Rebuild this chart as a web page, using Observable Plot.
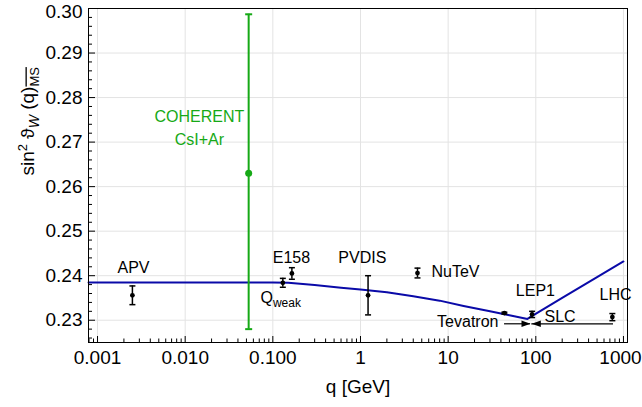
<!DOCTYPE html>
<html><head><meta charset="utf-8">
<script src="https://cdn.jsdelivr.net/npm/d3@7"></script>
<script src="https://cdn.jsdelivr.net/npm/@observablehq/plot@0.6"></script>
<style>
html,body{margin:0;padding:0;background:#fff;}
#chart svg{display:block;}
</style>
</head><body><div id="chart"></div>
<script>
// Running weak mixing angle curve
const curveQ = [0.00079, 0.05, 0.1, 0.15, 0.3, 0.6, 1, 2, 4, 8, 15, 30, 50, 80.4, 91.2, 200, 500, 1000];
const curveS = [0.2385, 0.2385, 0.2385, 0.2384, 0.2379, 0.2373, 0.2369, 0.2363, 0.2354, 0.2344, 0.2332, 0.2320, 0.2311, 0.2303, 0.2310, 0.2350, 0.2397, 0.2432];

// Measurements
const expNames = ["APV", "Qweak", "E158", "PVDIS", "NuTeV", "Tevatron", "LEP1", "LHC"];
const expQ = [0.0025, 0.13, 0.165, 1.22, 4.47, 43.8, 90.7, 747];
const expS = [0.2356, 0.2384, 0.2405, 0.2356, 0.2406, 0.2316, 0.2313, 0.2307];
const expErr = [0.0021, 0.0010, 0.0013, 0.0044, 0.0011, 0.0002, 0.0007, 0.0008];

// COHERENT CsI+Ar
const cohQ = [0.053];
const cohS = [0.263];
const cohLo = [0.2280];
const cohHi = [0.2987];

// Arrows (Tevatron, SLC)
const arrowFrom = [44, 770];
const arrowTo = [87, 90];
const arrowS = [0.2292, 0.2292];

// Annotation labels
const labelText = ["APV", "E158", "PVDIS", "LEP1", "LHC", "COHERENT", "CsI+Ar", "NuTeV", "SLC", "Qweak", "Tevatron"];
const labelQ = [0.00257, 0.163, 1.05, 98.9, 811, 0.0145, 0.0145, 6.46, 125.7, 0.0723, 37.5];
const labelS = [0.2405, 0.2428, 0.2428, 0.2354, 0.2345, 0.27442, 0.26926, 0.2396, 0.2296, 0.2339, 0.2285];

// Axes
const xTicks = [0.001, 0.01, 0.1, 1, 10, 100, 1000];
const xTickLabels = ["0.001", "0.010", "0.100", "1", "10", "100", "1000"];
const yTicks = [0.23, 0.24, 0.25, 0.26, 0.27, 0.28, 0.29, 0.30];
const yTickLabels = ["0.23", "0.24", "0.25", "0.26", "0.27", "0.28", "0.29", "0.30"];
const xMinor = [0.0008, 0.0009].concat(...[0.001, 0.01, 0.1, 1, 10, 100].map(d => d3.range(2, 10).map(k => k * d)));
const yMinor = d3.range(113, 150).map(k => k * 0.002).filter(v => v > 0.2249 && v < 0.3001 && Math.abs(v * 100 - Math.round(v * 100)) > 1e-6);
const xTitle = "q [GeV]";
const yTitle = "sin2 ϑW (q)MS";

const W = 642, H = 407, mL = 88, mR = 15, mT = 8, mB = 65;
const pw = W - mL - mR, ph = H - mT - mB;
const green = "#16a916", blue = "#0a0aa8";

const capSym = {draw(c) { c.moveTo(-3, 0); c.lineTo(3, 0); }};
const capSymG = {draw(c) { c.moveTo(-3.5, 0); c.lineTo(3.5, 0); }};
const headR = {draw(c) { c.moveTo(0, 0); c.lineTo(-9, -3.2); c.lineTo(-9, 3.2); c.closePath(); }};
const headL = {draw(c) { c.moveTo(0, 0); c.lineTo(9, -3.2); c.lineTo(9, 3.2); c.closePath(); }};

const ci = d3.range(curveQ.length);
const ei = d3.range(expQ.length);
const gi = [0];
const byAnchor = a => labelText.map((t, i) => i).filter(i => {
  const t = labelText[i];
  if (a === "start") return t === "NuTeV" || t === "SLC" || t === "Qweak";
  if (a === "end") return t === "Tevatron";
  return !(t === "NuTeV" || t === "SLC" || t === "Qweak" || t === "Tevatron");
});
const lblMark = (idx, anchor) => Plot.text(idx, {
  x: i => labelQ[i], y: i => labelS[i], text: i => labelText[i],
  textAnchor: anchor, lineAnchor: "bottom", fontSize: 16,
  fill: i => (labelText[i] === "COHERENT" || labelText[i] === "CsI+Ar") ? green : "black"
});

const svg = Plot.plot({
  width: W, height: H,
  marginLeft: mL, marginRight: mR, marginTop: mT, marginBottom: mB,
  style: {fontFamily: "'Liberation Sans', Arial, sans-serif", background: "white", color: "black"},
  x: {type: "log", domain: [0.000789, 1112]},
  y: {domain: [0.225, 0.30]},
  marks: [
    Plot.gridX(xTicks, {stroke: "#e3e3e3", strokeOpacity: 1}),
    Plot.gridY(yTicks, {stroke: "#e3e3e3", strokeOpacity: 1}),
    Plot.line(ci, {x: i => curveQ[i], y: i => curveS[i], stroke: blue, strokeWidth: 2}),
    // green COHERENT
    Plot.ruleX(gi, {x: i => cohQ[i], y1: i => cohLo[i], y2: i => cohHi[i], stroke: green, strokeWidth: 2}),
    Plot.dot(gi, {x: i => cohQ[i], y: i => cohLo[i], symbol: capSymG, r: 3, stroke: green, strokeWidth: 2, fill: "none"}),
    Plot.dot(gi, {x: i => cohQ[i], y: i => cohHi[i], symbol: capSymG, r: 3, stroke: green, strokeWidth: 2, fill: "none"}),
    Plot.dot(gi, {x: i => cohQ[i], y: i => cohS[i], r: 3.5, fill: green, stroke: "none"}),
    // measurements
    Plot.ruleX(ei, {x: i => expQ[i], y1: i => expS[i] - expErr[i], y2: i => expS[i] + expErr[i], stroke: "black", strokeWidth: 1.5}),
    Plot.dot(ei, {x: i => expQ[i], y: i => expS[i] - expErr[i], symbol: capSym, r: 3, stroke: "black", strokeWidth: 1.5, fill: "none"}),
    Plot.dot(ei, {x: i => expQ[i], y: i => expS[i] + expErr[i], symbol: capSym, r: 3, stroke: "black", strokeWidth: 1.5, fill: "none"}),
    Plot.dot(ei, {x: i => expQ[i], y: i => expS[i], r: 2.4, fill: "black", stroke: "none"}),
    // arrows
    Plot.ruleY([0, 1], {y: i => arrowS[i], x1: i => arrowFrom[i], x2: i => arrowTo[i], stroke: "black", strokeWidth: 1.2}),
    Plot.dot([0], {x: i => arrowTo[i], y: i => arrowS[i], symbol: headR, r: 3, fill: "black", stroke: "none"}),
    Plot.dot([1], {x: i => arrowTo[i], y: i => arrowS[i], symbol: headL, r: 3, fill: "black", stroke: "none"}),
    // labels
    lblMark(byAnchor("middle"), "middle"),
    lblMark(byAnchor("start"), "start"),
    lblMark(byAnchor("end"), "end"),
    // frame & inward ticks
    Plot.frame({stroke: "black", strokeWidth: 1}),
    Plot.tickY(yTicks, {y: d => d, insetRight: pw - 7, stroke: "black", strokeWidth: 1}),
    Plot.tickY(yMinor, {y: d => d, insetRight: pw - 4, stroke: "black", strokeWidth: 1}),
    Plot.tickX(xTicks, {x: d => d, insetTop: ph - 6, stroke: "black", strokeWidth: 1}),
    Plot.tickX(xMinor, {x: d => d, insetTop: ph - 3.5, stroke: "black", strokeWidth: 1}),
    // axes
    Plot.axisX(xTicks, {tickFormat: d => xTickLabels[xTicks.indexOf(d)], tickSize: 0, tickPadding: 8, fontSize: 19, label: null}),
    Plot.axisY(yTicks, {tickFormat: d => yTickLabels[yTicks.indexOf(d)], tickSize: 0, tickPadding: 6, fontSize: 19, label: null}),
    Plot.text([0], {frameAnchor: "bottom", dy: 50, text: () => xTitle, lineAnchor: "bottom", fontSize: 19}),
    Plot.text([0], {frameAnchor: "left", dx: -55, rotate: -90, text: () => yTitle, lineAnchor: "bottom", fontSize: 19})
  ]
});

function rich(el, parts) {
  while (el.firstChild) el.removeChild(el.firstChild);
  for (const p of parts) {
    const ts = document.createElementNS("http://www.w3.org/2000/svg", "tspan");
    ts.textContent = p.t;
    if (p.dy) ts.setAttribute("dy", p.dy);
    if (p.size) ts.setAttribute("font-size", p.size);
    if (p.italic) ts.setAttribute("font-style", "italic");
    if (p.over) ts.setAttribute("text-decoration", "overline");
    el.appendChild(ts);
  }
}
d3.select(svg).selectAll("text").each(function () {
  const t = this.textContent;
  if (t === yTitle) {
    rich(this, [
      {t: "sin"}, {t: "2", dy: -7, size: 13}, {t: " ϑ", dy: 7},
      {t: "W", dy: 5, size: 14, italic: true}, {t: " (q)", dy: -5},
      {t: "MS", dy: 5, size: 13, over: true}
    ]);
  } else if (t === "Qweak") {
    rich(this, [{t: "Q"}, {t: "weak", dy: 4, size: 12}]);
  } else if (t === "0.30") {
    this.setAttribute("dy", 3);
  } else if (t === "1000") {
    this.setAttribute("dx", -3);
  }
});

document.getElementById("chart").appendChild(svg);
</script>
</body></html>
